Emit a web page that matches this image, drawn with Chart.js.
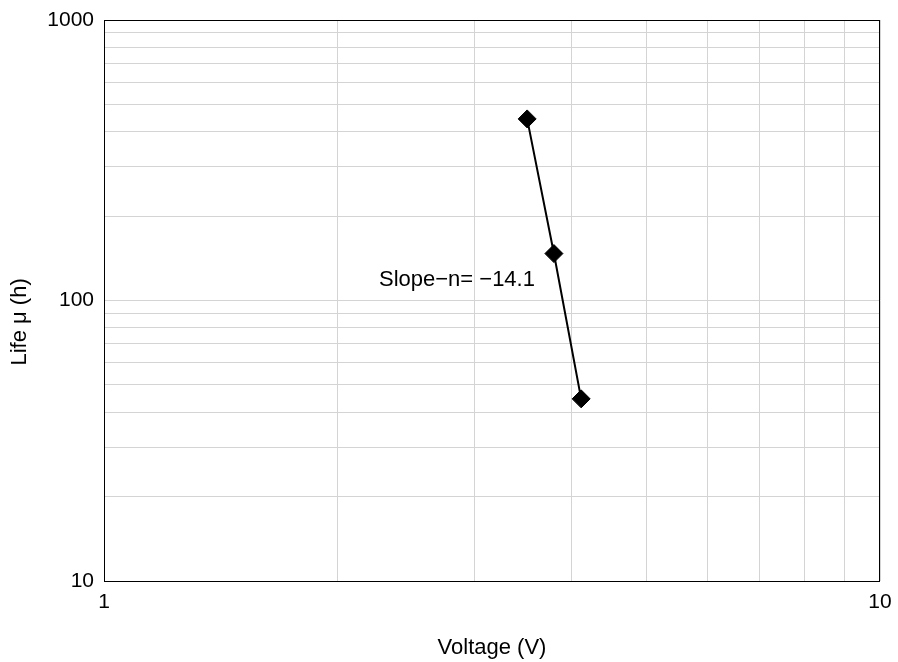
<!DOCTYPE html>
<html>
<head>
<meta charset="utf-8">
<script src="https://cdn.jsdelivr.net/npm/chart.js@4"></script>
<style>
html,body{margin:0;padding:0;background:#fff;}
#wrap{width:898px;height:662px;}
</style>
</head>
<body>
<div id="wrap"><canvas id="c" width="898" height="662"></canvas></div>
<script>
const voltages = [3.51, 3.80, 4.12];
const lifeHours = [444, 147, 44.6];
const xTickValues = [1, 2, 3, 4, 5, 6, 7, 8, 9, 10];
const yTickValues = [10, 20, 30, 40, 50, 60, 70, 80, 90, 100, 200, 300, 400, 500, 600, 700, 800, 900, 1000];
const xLabelValues = [1, 10];
const yLabelValues = [10, 100, 1000];
const annotationText = 'Slope\u2212n= \u221214.1';
const annotationAt = {x: 2.85, y: 118};

const FONT = "'Liberation Sans', Arial, 'Noto Sans CJK JP', sans-serif";

const frame = {
  id: 'frame',
  afterDatasetsDraw(chart) {
    const {ctx, chartArea: a, scales} = chart;
    ctx.save();
    ctx.strokeStyle = '#000';
    ctx.lineWidth = 1;
    ctx.strokeRect(Math.round(a.left) + 0.5, Math.round(a.top) + 0.5, Math.round(a.right - a.left) - 1, Math.round(a.bottom - a.top));
    ctx.fillStyle = '#000';
    ctx.font = '22px ' + FONT;
    ctx.textAlign = 'center';
    ctx.textBaseline = 'middle';
    ctx.fillText(annotationText, scales.x.getPixelForValue(annotationAt.x), scales.y.getPixelForValue(annotationAt.y));
    ctx.restore();
  }
};

function noPad(s) {
  s.paddingTop = 0; s.paddingBottom = 0; s.paddingLeft = 0; s.paddingRight = 0;
}

new Chart(document.getElementById('c'), {
  type: 'line',
  data: {
    datasets: [{
      data: voltages.map((v, i) => ({x: v, y: lifeHours[i]})),
      borderColor: '#000',
      borderWidth: 2,
      backgroundColor: '#000',
      pointStyle: 'rectRot',
      pointRadius: 9,
      pointBorderWidth: 1,
      pointBackgroundColor: '#000',
      pointBorderColor: '#000',
      tension: 0
    }]
  },
  options: {
    responsive: false,
    animation: false,
    events: [],
    layout: {padding: {top: 20, right: 18, left: 0, bottom: 0}},
    plugins: {legend: {display: false}, tooltip: {enabled: false}},
    scales: {
      x: {
        type: 'logarithmic',
        min: 1, max: 10,
        afterBuildTicks: s => { s.ticks = xTickValues.map(v => ({value: v})); },
        afterFit: s => { s.height = 81; noPad(s); },
        grid: {color: '#d4d4d4', lineWidth: 1, drawTicks: false},
        border: {display: false},
        ticks: {
          autoSkip: false, maxRotation: 0, padding: 9,
          color: '#000', font: {family: FONT, size: 21},
          callback: v => xLabelValues.includes(v) ? String(v) : ''
        },
        title: {display: true, text: 'Voltage (V)', color: '#000', font: {family: FONT, size: 22}, padding: {top: 0, bottom: 1}}
      },
      y: {
        type: 'logarithmic',
        min: 10, max: 1000,
        afterBuildTicks: s => { s.ticks = yTickValues.map(v => ({value: v})); },
        afterFit: s => { s.width = 104; noPad(s); },
        grid: {color: '#d4d4d4', lineWidth: 1, drawTicks: false},
        border: {display: false},
        ticks: {
          autoSkip: false, padding: 10,
          color: '#000', font: {family: FONT, size: 21},
          callback: v => yLabelValues.includes(v) ? String(v) : ''
        },
        title: {display: true, text: 'Life \u03BC (h)       ', color: '#000', font: {family: FONT, size: 22}, padding: {top: 7, bottom: 0}}
      }
    }
  },
  plugins: [frame]
});
</script>
</body>
</html>
